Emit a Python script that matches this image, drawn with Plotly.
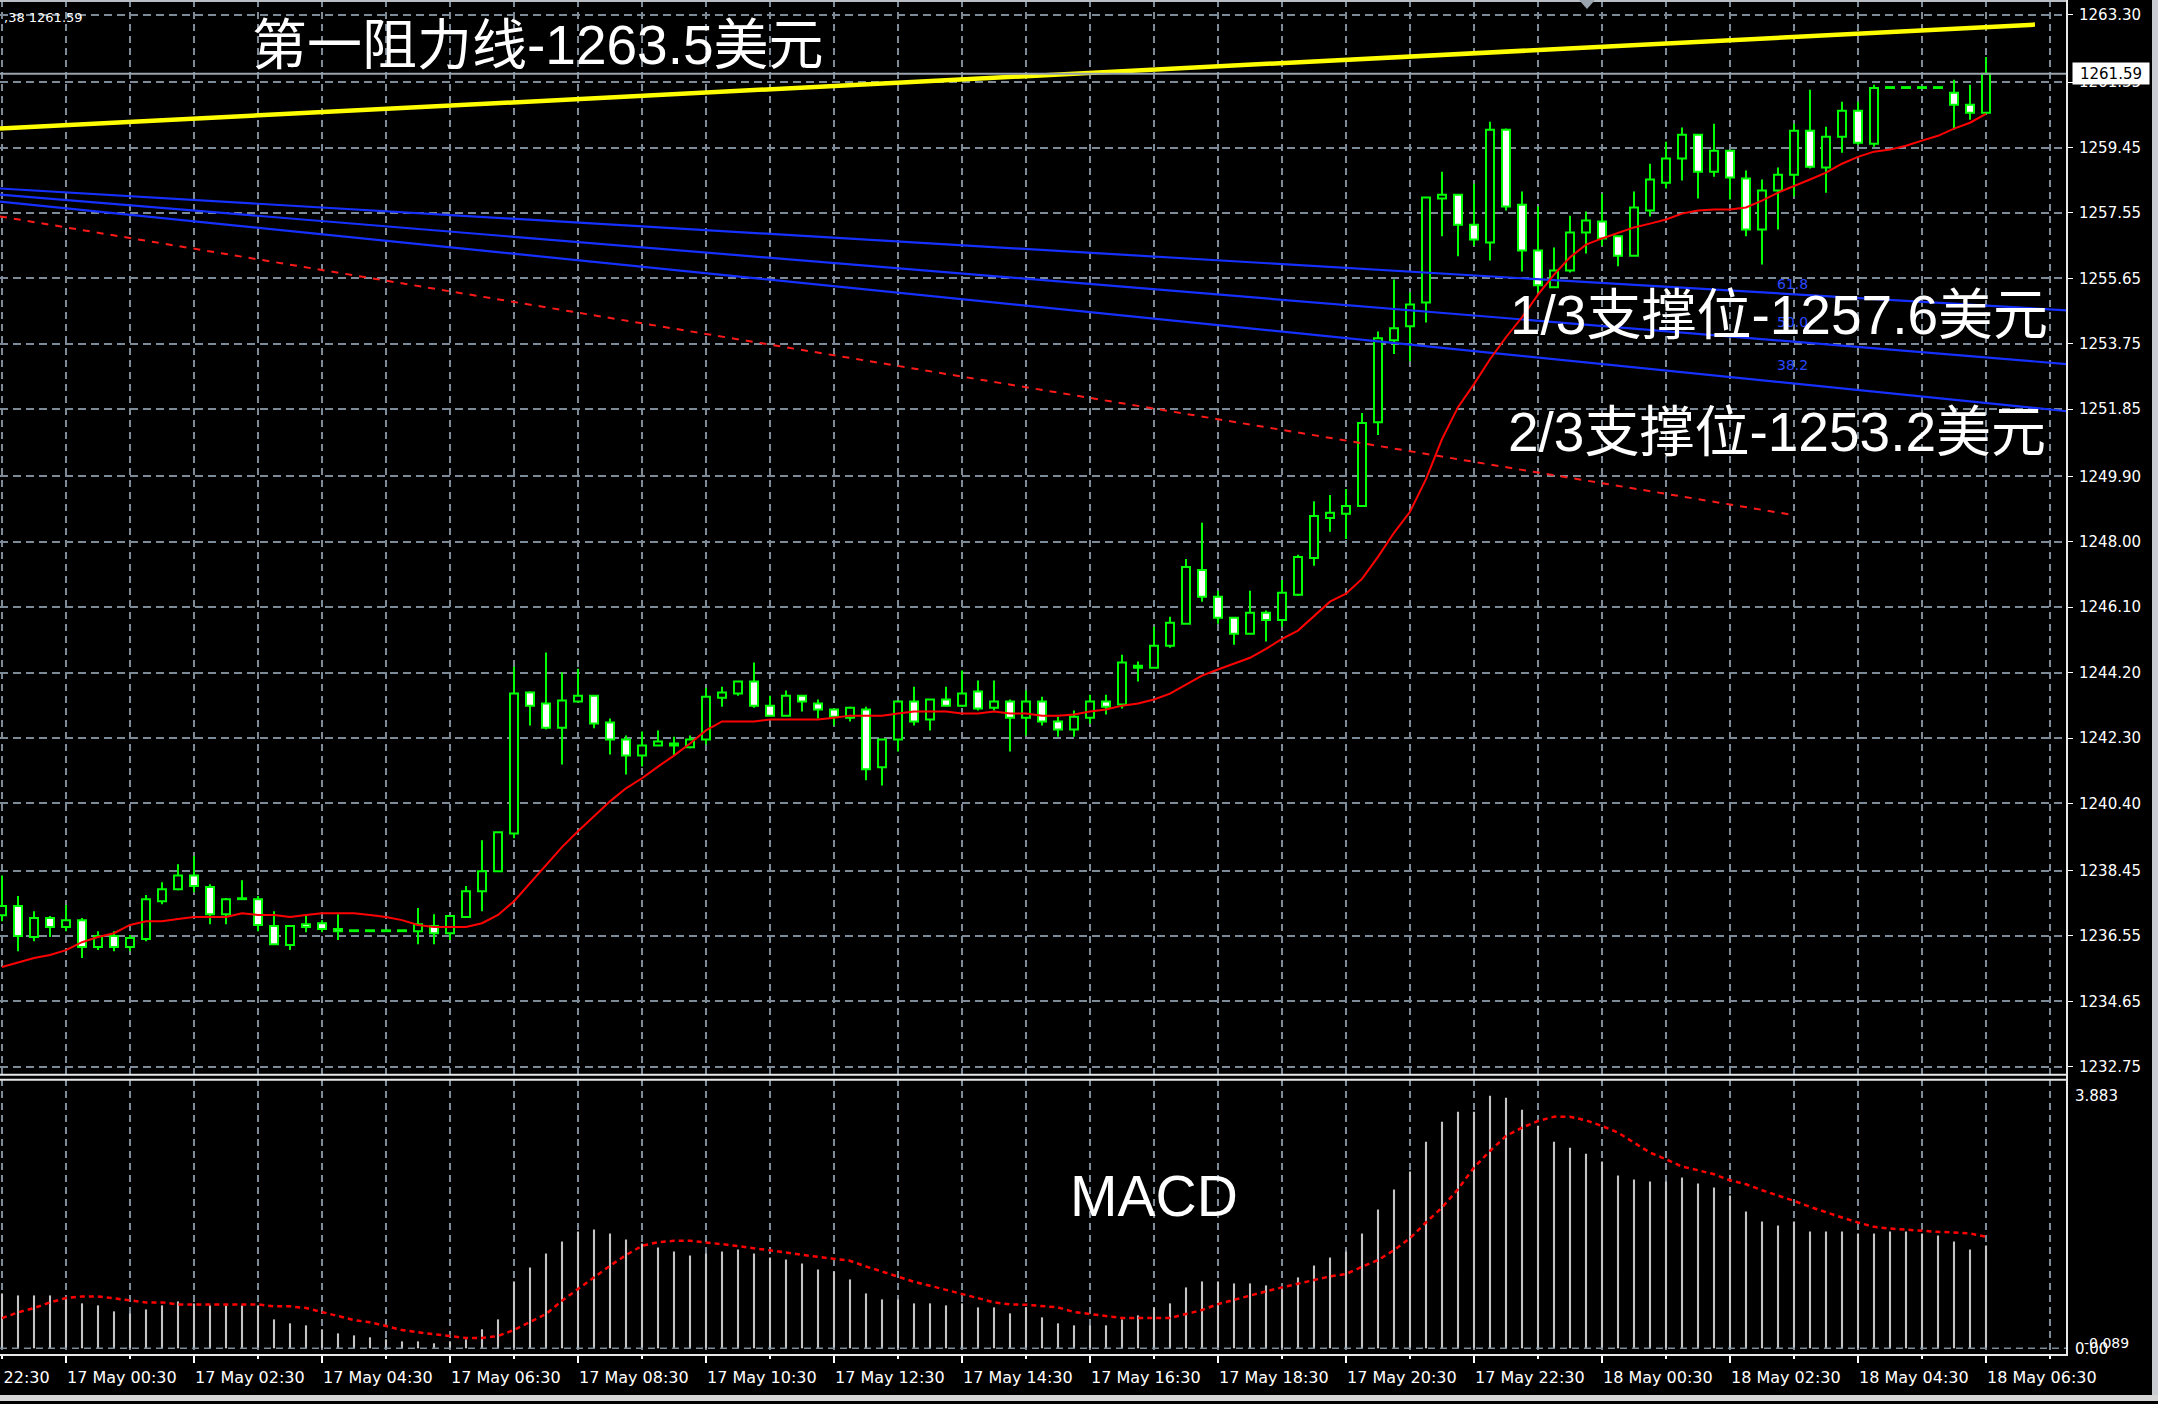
import plotly.graph_objects as go

W, H = 2158, 1404

# ---------------- data ----------------
bar_index = list(range(125))   # M15 bars, 16 May 23:30 ... 18 May 06:30

open_ = [1237.15, 1237.42, 1236.52, 1237.07, 1236.81, 1237.01, 1236.23, 1236.55, 1236.23, 1236.46,
         1237.56, 1237.91, 1238.31, 1237.97, 1237.18, 1237.62, 1237.62, 1236.84, 1236.29, 1236.89,
         1236.92, 1236.75, 1236.69, 1236.69, 1236.69, 1236.69, 1236.69, 1236.84, 1236.63, 1237.10,
         1237.85, 1238.43, 1239.53, 1243.62, 1243.30, 1242.60, 1243.36, 1243.53, 1242.75, 1242.26,
         1241.79, 1242.08, 1242.08, 1242.03, 1242.26, 1243.47, 1243.59, 1243.94, 1243.24, 1242.95,
         1243.53, 1243.30, 1243.13, 1242.89, 1243.13, 1241.45, 1242.26, 1243.36, 1242.84, 1243.42,
         1243.24, 1243.65, 1243.18, 1243.36, 1242.89, 1243.36, 1242.78, 1242.55, 1242.89, 1243.36,
         1243.27, 1244.40, 1244.34, 1244.98, 1245.62, 1247.18, 1246.40, 1245.79, 1245.33, 1245.94,
         1245.73, 1246.46, 1247.53, 1248.69, 1248.81, 1249.04, 1251.47, 1253.85, 1254.26, 1254.95,
         1257.97, 1258.08, 1257.21, 1256.69, 1259.97, 1257.79, 1256.46, 1255.39, 1255.88, 1256.98,
         1257.30, 1256.87, 1256.31, 1257.62, 1258.43, 1259.13, 1259.82, 1258.75, 1259.36, 1258.55,
         1257.07, 1258.20, 1258.66, 1259.94, 1258.87, 1259.76, 1260.52, 1259.56, 1261.18, 1261.18,
         1261.18, 1261.18, 1261.04, 1260.69, 1260.46]
high = [1238.31, 1237.71, 1237.27, 1237.13, 1237.45, 1237.07, 1236.69, 1236.69, 1236.58, 1237.74,
        1238.11, 1238.63, 1238.87, 1238.05, 1237.65, 1238.17, 1237.71, 1237.27, 1236.84, 1237.13,
        1237.01, 1237.18, 1236.69, 1236.69, 1236.69, 1236.69, 1237.36, 1237.18, 1237.15, 1238.00,
        1239.33, 1239.56, 1244.37, 1243.65, 1244.78, 1244.20, 1244.31, 1243.53, 1242.87, 1242.37,
        1242.49, 1242.52, 1242.34, 1242.37, 1243.76, 1243.79, 1243.94, 1244.49, 1243.53, 1243.68,
        1243.53, 1243.42, 1243.13, 1243.21, 1243.21, 1242.26, 1243.36, 1243.79, 1243.42, 1243.79,
        1244.26, 1243.97, 1243.97, 1243.42, 1243.68, 1243.50, 1242.92, 1243.10, 1243.56, 1243.56,
        1244.72, 1244.52, 1245.53, 1245.82, 1247.50, 1248.55, 1246.58, 1245.79, 1246.58, 1246.00,
        1246.89, 1247.62, 1249.18, 1249.36, 1249.53, 1251.74, 1254.11, 1255.62, 1255.24, 1258.00,
        1258.75, 1258.08, 1258.40, 1260.20, 1260.00, 1258.17, 1257.74, 1256.55, 1257.47, 1257.59,
        1258.11, 1256.87, 1258.17, 1258.98, 1259.62, 1260.03, 1259.82, 1260.14, 1259.36, 1258.78,
        1258.52, 1258.87, 1260.14, 1261.13, 1260.05, 1260.78, 1260.78, 1261.27, 1261.18, 1261.18,
        1261.18, 1261.18, 1261.42, 1261.27, 1262.08]
low = [1236.98, 1236.11, 1236.40, 1236.52, 1236.69, 1235.91, 1236.14, 1236.11, 1236.11, 1236.40,
       1237.47, 1237.88, 1237.82, 1236.89, 1236.89, 1237.62, 1236.69, 1236.29, 1236.14, 1236.66,
       1236.66, 1236.43, 1236.69, 1236.69, 1236.69, 1236.69, 1236.31, 1236.31, 1236.43, 1237.07,
       1237.27, 1238.43, 1239.39, 1242.66, 1242.55, 1241.53, 1243.36, 1242.58, 1241.82, 1241.24,
       1241.47, 1242.08, 1241.79, 1242.00, 1242.11, 1243.21, 1243.53, 1243.18, 1242.95, 1242.95,
       1243.07, 1242.87, 1242.66, 1242.78, 1241.07, 1240.92, 1241.91, 1242.66, 1242.52, 1243.24,
       1243.21, 1243.10, 1243.10, 1241.91, 1242.37, 1242.66, 1242.34, 1242.34, 1242.72, 1242.98,
       1243.16, 1243.94, 1244.34, 1244.92, 1245.62, 1246.26, 1245.62, 1245.01, 1245.33, 1245.10,
       1245.53, 1246.43, 1247.30, 1248.29, 1248.08, 1249.04, 1251.10, 1253.45, 1253.24, 1254.37,
       1256.87, 1256.29, 1256.60, 1256.17, 1257.62, 1255.85, 1255.24, 1255.39, 1255.82, 1256.37,
       1256.60, 1256.00, 1256.31, 1257.45, 1258.26, 1258.49, 1257.97, 1258.60, 1257.94, 1256.87,
       1256.05, 1257.07, 1258.03, 1258.84, 1258.14, 1259.30, 1259.53, 1259.47, 1261.18, 1261.18,
       1261.18, 1261.18, 1259.97, 1260.26, 1260.46]
close = [1237.42, 1236.55, 1237.07, 1236.81, 1237.01, 1236.23, 1236.55, 1236.23, 1236.49, 1237.62,
         1237.91, 1238.31, 1238.00, 1237.18, 1237.62, 1237.62, 1236.87, 1236.31, 1236.84, 1236.81,
         1236.75, 1236.69, 1236.69, 1236.69, 1236.69, 1236.69, 1236.89, 1236.63, 1237.13, 1237.85,
         1238.43, 1239.56, 1243.59, 1243.24, 1242.60, 1243.39, 1243.53, 1242.72, 1242.26, 1241.79,
         1242.08, 1242.20, 1242.14, 1242.26, 1243.50, 1243.62, 1243.94, 1243.24, 1242.95, 1243.53,
         1243.36, 1243.13, 1242.92, 1243.18, 1241.39, 1242.26, 1243.36, 1242.78, 1243.42, 1243.24,
         1243.59, 1243.16, 1243.36, 1242.89, 1243.36, 1242.78, 1242.55, 1242.92, 1243.36, 1243.21,
         1244.49, 1244.34, 1244.98, 1245.65, 1247.27, 1246.40, 1245.79, 1245.33, 1245.94, 1245.73,
         1246.52, 1247.56, 1248.75, 1248.84, 1249.04, 1251.45, 1253.91, 1254.20, 1254.89, 1258.00,
         1258.08, 1257.21, 1256.78, 1259.97, 1257.74, 1256.46, 1255.45, 1255.88, 1256.98, 1257.33,
         1256.81, 1256.31, 1257.71, 1258.52, 1259.13, 1259.82, 1258.75, 1259.36, 1258.58, 1257.07,
         1258.20, 1258.66, 1259.94, 1258.89, 1259.76, 1260.52, 1259.59, 1261.18, 1261.18, 1261.18,
         1261.18, 1261.18, 1260.69, 1260.46, 1261.59]
ma = [1235.65, 1235.79, 1235.91, 1236.00, 1236.14, 1236.37, 1236.52, 1236.63, 1236.87, 1236.98,
      1236.98, 1237.04, 1237.10, 1237.10, 1237.10, 1237.21, 1237.16, 1237.16, 1237.10, 1237.16,
      1237.21, 1237.21, 1237.21, 1237.16, 1237.10, 1237.01, 1236.87, 1236.81, 1236.81, 1236.81,
      1236.92, 1237.16, 1237.56, 1238.08, 1238.58, 1239.13, 1239.59, 1240.03, 1240.46, 1240.84,
      1241.13, 1241.47, 1241.79, 1242.14, 1242.52, 1242.78, 1242.78, 1242.78, 1242.84, 1242.84,
      1242.84, 1242.84, 1242.89, 1242.95, 1242.95, 1242.95, 1243.01, 1243.07, 1243.07, 1243.07,
      1243.01, 1243.01, 1243.07, 1243.01, 1243.01, 1242.95, 1242.95, 1242.98, 1243.07, 1243.13,
      1243.24, 1243.30, 1243.42, 1243.59, 1243.85, 1244.11, 1244.29, 1244.46, 1244.63, 1244.89,
      1245.18, 1245.42, 1245.85, 1246.26, 1246.49, 1246.92, 1247.56, 1248.26, 1248.87, 1249.82,
      1250.98, 1251.91, 1252.58, 1253.30, 1253.94, 1254.52, 1255.18, 1255.76, 1256.26, 1256.63,
      1256.81, 1256.98, 1257.13, 1257.24, 1257.36, 1257.53, 1257.62, 1257.65, 1257.65, 1257.71,
      1257.91, 1258.14, 1258.32, 1258.52, 1258.72, 1258.98, 1259.18, 1259.33, 1259.39, 1259.50,
      1259.65, 1259.79, 1260.00, 1260.17, 1260.43]
macd_hist = [0.844, 0.813, 0.813, 0.813, 0.783, 0.691, 0.660, 0.568, 0.537, 0.598,
             0.660, 0.721, 0.691, 0.660, 0.660, 0.660, 0.660, 0.445, 0.384, 0.353,
             0.292, 0.230, 0.199, 0.169, 0.138, 0.107, 0.107, 0.077, 0.107, 0.138,
             0.292, 0.445, 1.028, 1.243, 1.458, 1.642, 1.795, 1.826, 1.765, 1.673,
             1.611, 1.550, 1.488, 1.427, 1.458, 1.488, 1.519, 1.458, 1.396, 1.366,
             1.304, 1.212, 1.182, 1.059, 0.844, 0.752, 0.752, 0.691, 0.691, 0.660,
             0.691, 0.629, 0.629, 0.537, 0.629, 0.476, 0.384, 0.353, 0.353, 0.353,
             0.445, 0.506, 0.629, 0.691, 0.936, 1.028, 1.028, 0.997, 0.997, 0.967,
             0.905, 1.090, 1.274, 1.396, 1.488, 1.765, 2.133, 2.440, 2.716, 3.176,
             3.483, 3.637, 3.637, 3.883, 3.852, 3.668, 3.422, 3.176, 3.084, 2.992,
             2.870, 2.655, 2.593, 2.563, 2.563, 2.624, 2.532, 2.471, 2.348, 2.102,
             1.949, 1.887, 1.949, 1.795, 1.795, 1.795, 1.765, 1.765, 1.795, 1.795,
             1.765, 1.734, 1.642, 1.519, 1.581]
macd_signal = [0.465, 0.552, 0.619, 0.706, 0.772, 0.798, 0.798, 0.772, 0.737, 0.706,
               0.706, 0.675, 0.675, 0.675, 0.675, 0.675, 0.675, 0.645, 0.645, 0.619,
               0.552, 0.496, 0.435, 0.399, 0.343, 0.281, 0.246, 0.215, 0.189, 0.159,
               0.159, 0.189, 0.281, 0.399, 0.527, 0.731, 0.910, 1.090, 1.269, 1.432,
               1.575, 1.632, 1.652, 1.652, 1.632, 1.601, 1.570, 1.540, 1.509, 1.473,
               1.437, 1.407, 1.381, 1.345, 1.258, 1.176, 1.100, 1.023, 0.962, 0.895,
               0.834, 0.772, 0.706, 0.675, 0.670, 0.650, 0.629, 0.558, 0.527, 0.501,
               0.465, 0.465, 0.465, 0.465, 0.527, 0.588, 0.680, 0.747, 0.808, 0.875,
               0.936, 0.987, 1.049, 1.105, 1.141, 1.253, 1.355, 1.509, 1.693, 1.934,
               2.164, 2.445, 2.777, 3.033, 3.263, 3.391, 3.494, 3.560, 3.560, 3.504,
               3.417, 3.315, 3.161, 3.008, 2.905, 2.793, 2.737, 2.675, 2.583, 2.522,
               2.430, 2.353, 2.266, 2.174, 2.087, 2.010, 1.934, 1.867, 1.841, 1.821,
               1.806, 1.790, 1.780, 1.765, 1.714]

price_ticks = [1263.30, 1261.35, 1259.45, 1257.55, 1255.65, 1253.75, 1251.85, 1249.90, 1248.00,
               1246.10, 1244.20, 1242.30, 1240.40, 1238.45, 1236.55, 1234.65, 1232.75]
time_label_bars = [4, 12, 20, 28, 36, 44, 52, 60, 68, 76, 84, 92, 100, 108, 116, 124]
time_labels = ["17 May 00:30", "17 May 02:30", "17 May 04:30", "17 May 06:30", "17 May 08:30",
               "17 May 10:30", "17 May 12:30", "17 May 14:30", "17 May 16:30", "17 May 18:30",
               "17 May 20:30", "17 May 22:30", "18 May 00:30", "18 May 02:30", "18 May 04:30",
               "18 May 06:30"]
first_partial_label = "16 May 22:30"
macd_max, macd_min = 3.883, -0.089

# drawn objects (bar index, price)
resist_bars = [-0.125, 127.06]
resist_price = [1260.00, 1263.02]
fan_bars = [-0.125, 129.06]
fan_618 = [1258.26, 1254.72]
fan_500 = [1258.08, 1253.16]
fan_382 = [1257.88, 1251.79]
fib_names = ["61.8", "50.0", "38.2"]
fib_label_bar = 111.9
fib_label_price = [1255.50, 1254.37, 1253.13]
trend_bars = [-0.125, 111.9]
trend_price = [1257.45, 1248.78]
bid = close[-1]

# ---------------- geometry helpers ----------------
def px(xp):
    return xp / W

def py(yp):
    return 1 - yp / H

XR = px(2067)
GRID = "#7d8b99"
LIME = "#00ff00"

fig = go.Figure()

# wicks (split so they do not cross bodies)
wx, wy = [], []
for i, o, h, l, c in zip(bar_index, open_, high, low, close):
    top, bot = max(o, c), min(o, c)
    if h > top:
        wx += [i, i, None]; wy += [top, h, None]
    if l < bot:
        wx += [i, i, None]; wy += [bot, l, None]

body_base = [min(o, c) for o, c in zip(open_, close)]
body_h = [max(abs(c - o), 0.025) for o, c in zip(open_, close)]
body_col = ["#000000" if c >= o else "#ffffff" for o, c in zip(open_, close)]

fig.add_trace(go.Bar(x=bar_index, y=body_h, base=body_base, width=0.5,
                     marker=dict(color=body_col, line=dict(color=LIME, width=2)),
                     xaxis="x", yaxis="y", hoverinfo="skip"))
fig.add_trace(go.Scatter(x=wx, y=wy, mode="lines", line=dict(color=LIME, width=2),
                         xaxis="x", yaxis="y", hoverinfo="skip"))

# fan lines and trend line
for vals in (fan_618, fan_500, fan_382):
    fig.add_trace(go.Scatter(x=fan_bars, y=vals, mode="lines",
                             line=dict(color="#1530ff", width=2.2), xaxis="x", yaxis="y"))
fig.add_trace(go.Scatter(x=trend_bars, y=trend_price, mode="lines",
                         line=dict(color="#ff1a1a", width=2, dash="7px,7px"), xaxis="x", yaxis="y"))
# moving average
fig.add_trace(go.Scatter(x=bar_index, y=ma, mode="lines", line=dict(color="#ff0000", width=2),
                         xaxis="x", yaxis="y"))
# resistance line
fig.add_trace(go.Scatter(x=resist_bars, y=resist_price, mode="lines",
                         line=dict(color="#ffff00", width=4.5), xaxis="x", yaxis="y"))

# MACD
fig.add_trace(go.Bar(x=bar_index, y=macd_hist, width=0.13, marker=dict(color="#c4c4c4", line=dict(width=0)),
                     xaxis="x2", yaxis="y2"))
fig.add_trace(go.Scatter(x=bar_index, y=macd_signal, mode="lines",
                         line=dict(color="#ff0000", width=2.5, dash="5px,4px"), xaxis="x2", yaxis="y2"))

grid_vals = list(range(0, 129, 4))
xrange = [-0.125, 129.0625]
common_x = dict(range=xrange, domain=[0, XR], showgrid=True, gridcolor=GRID, gridwidth=1.5,
                griddash="7px,5px", zeroline=False, showline=False, fixedrange=True)

fig.update_layout(
    width=W, height=H, margin=dict(l=0, r=0, t=0, b=0),
    paper_bgcolor="#000000", plot_bgcolor="#000000", showlegend=False, barmode="overlay",
    xaxis=dict(**common_x, anchor="y", tickmode="array", tickvals=grid_vals, ticks="",
               showticklabels=False),
    yaxis=dict(domain=[py(1076), 1], range=[1232.55, 1263.735], side="right", anchor="x",
               tickmode="array", tickvals=price_ticks, ticktext=[f"{v:.2f}" for v in price_ticks],
               ticks="outside", ticklen=5, tickcolor="#ffffff", tickwidth=1,
               tickfont=dict(family="DejaVu Sans", size=15, color="#ffffff"),
               showgrid=True, gridcolor=GRID, gridwidth=1.5, griddash="8px,5px",
               zeroline=False, showline=False, fixedrange=True, ticklabelstandoff=3),
    xaxis2=dict(**common_x, anchor="y2", matches="x", tickmode="array", tickvals=time_label_bars,
                ticks="outside", ticklen=8, tickcolor="#ffffff", tickwidth=1.5, showticklabels=False,
                minor=dict(tickmode="array", tickvals=grid_vals, ticks="outside", ticklen=4,
                           tickcolor="#ffffff", showgrid=True, gridcolor=GRID, gridwidth=1.5,
                           griddash="7px,5px")),
    yaxis2=dict(domain=[py(1357), py(1081)], range=[macd_min, 4.144], side="right", anchor="x2",
                tickmode="array", tickvals=[macd_max, 0], ticktext=[f"{macd_max:.3f}", "0.00"],
                ticks="", tickfont=dict(family="DejaVu Sans", size=15, color="#ffffff"),
                showgrid=False, zeroline=False, showline=False, fixedrange=True, ticklabelstandoff=7),
)

shapes = []
def hline(y_px, x0, x1, color, width, dash="solid"):
    shapes.append(dict(type="line", xref="paper", yref="paper", x0=px(x0), x1=px(x1),
                       y0=py(y_px), y1=py(y_px), line=dict(color=color, width=width, dash=dash)))

# bid line
shapes.append(dict(type="line", xref="paper", yref="y", x0=0, x1=XR, y0=bid, y1=bid,
                   line=dict(color="#9aa4ae", width=2)))
# MACD zero level
shapes.append(dict(type="line", xref="paper", yref="y2", x0=0, x1=XR, y0=0, y1=0,
                   line=dict(color=GRID, width=1.5, dash="7px,5px")))
# frames
hline(1, 0, 2067, "#b8bec4", 2)
hline(1077, 0, 2067, "#e8e8e8", 2)
hline(1082, 0, 2067, "#e8e8e8", 2)
hline(1358, 0, 2067, "#e8e8e8", 2)
shapes.append(dict(type="line", xref="paper", yref="paper", x0=XR, x1=XR, y0=py(1359), y1=1,
                   line=dict(color="#e8e8e8", width=2)))
# window edges
shapes.append(dict(type="rect", xref="paper", yref="paper", x0=px(2152), x1=1, y0=0, y1=1,
                   fillcolor="#c9ccd0", line=dict(width=0)))
shapes.append(dict(type="rect", xref="paper", yref="paper", x0=0, x1=1, y0=0, y1=py(1398),
                   fillcolor="#d6d6d6", line=dict(width=0)))
# chart shift marker
shapes.append(dict(type="path", xref="paper", yref="paper",
                   path=f"M {px(1579)} {py(0)} L {px(1595)} {py(0)} L {px(1587)} {py(9)} Z",
                   fillcolor="#9aa4ae", line=dict(width=0)))
fig.update_layout(shapes=shapes)

ann = []
# fib labels
for name, p in zip(fib_names, fib_label_price):
    ann.append(dict(x=fib_label_bar, y=p, xref="x", yref="y", text=name, showarrow=False,
                    font=dict(family="DejaVu Sans", size=14, color="#2a48ff")))
# time labels
for b, t in zip(time_label_bars, time_labels):
    ann.append(dict(x=b, y=py(1380), xref="x2", yref="paper", text=t, showarrow=False,
                    xanchor="left", yanchor="middle", xshift=-1,
                    font=dict(family="DejaVu Sans", size=16, color="#ffffff")))
ann.append(dict(x=px(-62), y=py(1380), xref="paper", yref="paper", text=first_partial_label,
                showarrow=False, xanchor="left", yanchor="middle",
                font=dict(family="DejaVu Sans", size=16, color="#ffffff")))
# current price box
ann.append(dict(x=px(2072), y=bid, xref="paper", yref="y", text=f"{bid:.2f}", showarrow=False,
                xanchor="left", yanchor="middle", bgcolor="#ffffff", width=74, height=19,
                font=dict(family="DejaVu Sans", size=15, color="#000000")))
# MACD min label
ann.append(dict(x=px(2082), y=py(1346), xref="paper", yref="paper", text=f"{macd_min:.3f}",
                showarrow=False, xanchor="left", yanchor="middle",
                font=dict(family="DejaVu Sans", size=14, color="#ffffff")))
# top-left info
ann.append(dict(x=px(2), y=py(18), xref="paper", yref="paper", text=",38 1261.59", showarrow=False,
                xanchor="left", yanchor="middle", font=dict(family="DejaVu Sans", size=13, color="#ffffff")))
# big texts
big = dict(family="Liberation Sans, Arial, Noto Sans CJK SC", size=55, color="#ffffff")
ann.append(dict(x=px(250), y=py(45), xref="paper", yref="paper", text="第一阻力线-1263.5美元",
                showarrow=False, xanchor="left", yanchor="middle", font=big))
ann.append(dict(x=px(1508), y=py(316), xref="paper", yref="paper", text="1/3支撑位-1257.6美元",
                showarrow=False, xanchor="left", yanchor="middle", font=big))
ann.append(dict(x=px(1506), y=py(433), xref="paper", yref="paper", text="2/3支撑位-1253.2美元",
                showarrow=False, xanchor="left", yanchor="middle", font=big))
ann.append(dict(x=px(1068), y=py(1199), xref="paper", yref="paper", text="MACD",
                showarrow=False, xanchor="left", yanchor="middle",
                font=dict(family="Liberation Sans, Arial", size=57, color="#ffffff")))
fig.update_layout(annotations=ann)

fig.write_html("out.html", config={"displayModeBar": False},
               post_script="document.body.style.margin='0';document.body.style.overflow='hidden';"
                           "document.body.style.background='#000';")
